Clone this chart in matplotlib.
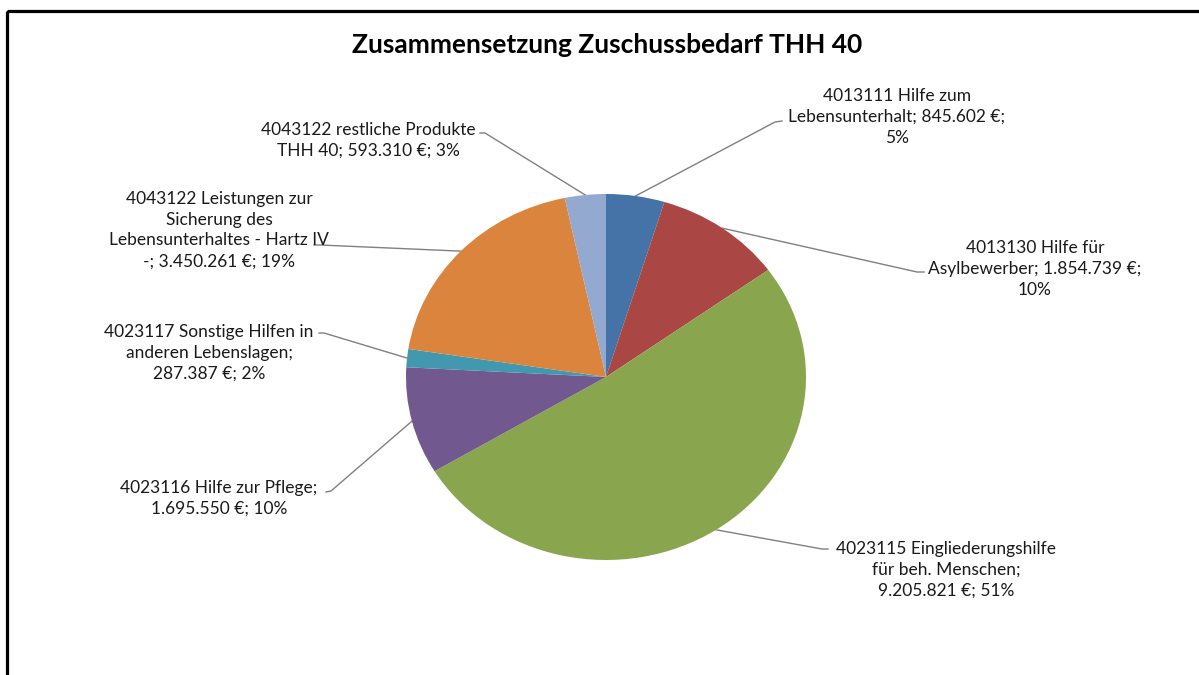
import numpy as np
import matplotlib
matplotlib.use("Agg")
import matplotlib.pyplot as plt
from matplotlib.patches import Rectangle

plt.rcParams['font.family'] = ['Lato', 'DejaVu Sans']

title = "Zusammensetzung Zuschussbedarf THH 40"

# slices, clockwise from 12 o'clock
codes = ["4013111", "4013130", "4023115", "4023116", "4023117", "4043122", "4043122"]
names = ["Hilfe zum Lebensunterhalt", "Hilfe für Asylbewerber",
         "Eingliederungshilfe für beh. Menschen", "Hilfe zur Pflege",
         "Sonstige Hilfen in anderen Lebenslagen",
         "Leistungen zur Sicherung des Lebensunterhaltes - Hartz IV -",
         "restliche Produkte THH 40"]
values = [845602, 1854739, 9205821, 1695550, 287387, 3450261, 593310]
colors = ["#4572A7", "#AA4643", "#89A54E", "#71588F", "#4198AF", "#DB843D", "#93A9CF"]

# label text as wrapped in the original
label_texts = [
    "4013111 Hilfe zum\nLebensunterhalt; 845.602 €;\n5%",
    "4013130 Hilfe für\nAsylbewerber; 1.854.739 €;\n10%",
    "4023115 Eingliederungshilfe\nfür beh. Menschen;\n9.205.821 €; 51%",
    "4023116 Hilfe zur Pflege;\n1.695.550 €; 10%",
    "4023117 Sonstige Hilfen in\nanderen Lebenslagen;\n287.387 €; 2%",
    "4043122 Leistungen zur\nSicherung des\nLebensunterhaltes - Hartz IV\n-; 3.450.261 €; 19%",
    "4043122 restliche Produkte\nTHH 40; 593.310 €; 3%",
]

# layout (pixels): label centre and leader end points
label_pos = [(897, 117), (1035, 269), (946, 570), (219, 498),
             (209, 353), (219, 230), (368, 140)]
leader_ends = [[(775, 122), (782, 121)], [(917, 272), (924, 272)],
               [(822, 549), (828, 549)], [(331, 491), (326, 492)],
               [(324, 333), (319, 333)], [(320, 245), (314, 245)],
               [(485, 133), (480, 133)]]

W, H = 1199, 675
fig = plt.figure(figsize=(W / 100, H / 100), dpi=100)

# pie area (slightly elliptical like the original)
cx, cy, rx, ry = 606, 377, 200, 183
pax = fig.add_axes([(cx - rx) / W, (H - cy - ry) / H, 2 * rx / W, 2 * ry / H])
wedges, _ = pax.pie(values, colors=colors, startangle=90, counterclock=False,
                    radius=1, wedgeprops=dict(linewidth=0))
pax.set_aspect('auto')
pax.set_xlim(-1, 1)
pax.set_ylim(-1, 1)
pax.axis('off')

ov = fig.add_axes([0, 0, 1, 1], zorder=-1)
ov.set_xlim(0, W)
ov.set_ylim(H, 0)
ov.axis('off')
ov.patch.set_alpha(0)

ov.add_patch(Rectangle((7, 11), W + 20, H + 20, fill=False, edgecolor='black', linewidth=2.3))
ov.text(607, 45, title, ha='center', va='center', fontsize=19, fontweight='bold', color='black')

to_ov = pax.transData + ov.transData.inverted()
for w, txt, pos, ends in zip(wedges, label_texts, label_pos, leader_ends):
    mid = np.deg2rad((w.theta1 + w.theta2) / 2)
    ax_, ay_ = to_ov.transform((np.cos(mid), np.sin(mid)))
    xs = [ax_] + [p[0] for p in ends]
    ys = [ay_] + [p[1] for p in ends]
    ov.plot(xs, ys, color='#808080', linewidth=1)
    ov.text(pos[0], pos[1], txt, ha='center', va='center', fontsize=12.5,
            linespacing=1.37, color='#1a1a1a')

fig.savefig("out.png", dpi=100)
